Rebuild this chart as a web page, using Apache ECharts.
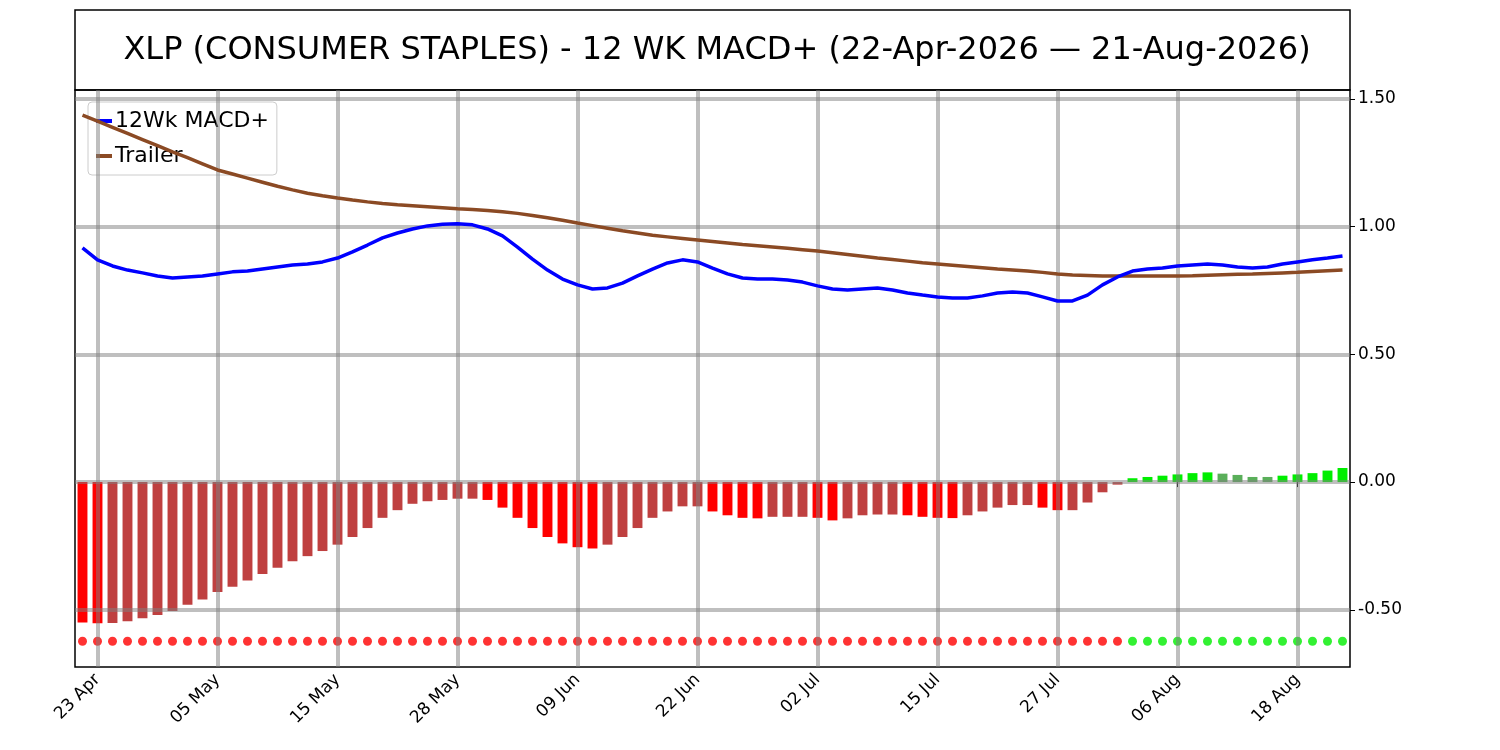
<!DOCTYPE html>
<html>
<head>
<meta charset="utf-8">
<script src="https://cdn.jsdelivr.net/npm/echarts@6/dist/echarts.min.js"></script>
<style>
  html, body { margin: 0; padding: 0; background: #fff; }
  #chart { width: 1500px; height: 750px; }
</style>
</head>
<body>
<div id="chart"></div>
<script>
// trading days, 22 Apr - 21 Aug 2026
var dates = [
  '22 Apr','23 Apr','24 Apr','27 Apr','28 Apr','29 Apr','30 Apr',
  '01 May','04 May','05 May','06 May','07 May','08 May','11 May','12 May','13 May','14 May','15 May',
  '18 May','19 May','20 May','21 May','22 May','26 May','27 May','28 May','29 May',
  '01 Jun','02 Jun','03 Jun','04 Jun','05 Jun','08 Jun','09 Jun','10 Jun','11 Jun','12 Jun',
  '15 Jun','16 Jun','17 Jun','18 Jun','22 Jun','23 Jun','24 Jun','25 Jun','26 Jun','29 Jun','30 Jun',
  '01 Jul','02 Jul','06 Jul','07 Jul','08 Jul','09 Jul','10 Jul','13 Jul','14 Jul','15 Jul',
  '16 Jul','17 Jul','20 Jul','21 Jul','22 Jul','23 Jul','24 Jul','27 Jul','28 Jul','29 Jul','30 Jul','31 Jul',
  '03 Aug','04 Aug','05 Aug','06 Aug','07 Aug','10 Aug','11 Aug','12 Aug','13 Aug','14 Aug',
  '17 Aug','18 Aug','19 Aug','20 Aug','21 Aug'
];

var macd = [
  0.917,0.870,0.846,0.830,0.819,0.807,0.799,0.803,0.807,0.815,
  0.823,0.826,0.834,0.842,0.850,0.854,0.862,0.877,0.901,0.928,
  0.956,0.975,0.991,1.003,1.009,1.011,1.007,0.991,0.964,0.920,
  0.873,0.830,0.795,0.772,0.756,0.760,0.779,0.807,0.834,0.858,
  0.870,0.862,0.838,0.815,0.799,0.795,0.795,0.791,0.783,0.768,
  0.756,0.752,0.756,0.760,0.752,0.740,0.732,0.725,0.721,0.721,
  0.729,0.740,0.744,0.740,0.725,0.709,0.709,0.732,0.772,0.803,
  0.826,0.834,0.838,0.846,0.850,0.854,0.850,0.842,0.838,0.842,
  0.854,0.862,0.870,0.877,0.885
];

var trailer = [
  1.437,1.413,1.389,1.365,1.341,1.317,1.293,1.270,1.246,1.222,
  1.206,1.190,1.174,1.158,1.144,1.131,1.121,1.112,
  1.104,1.097,1.091,1.086,1.082,1.078,1.074,1.070,
  1.067,1.063,1.058,1.052,1.044,1.035,1.025,1.014,
  1.004,0.994,0.984,0.975,0.966,0.960,0.954,0.948,
  0.942,0.936,0.930,0.925,0.920,0.915,0.910,0.905,
  0.898,0.891,0.884,0.877,0.871,0.865,0.859,0.854,
  0.849,0.844,0.839,0.834,0.830,0.826,0.821,0.815,
  0.811,0.809,0.807,0.807,0.807,0.807,0.807,0.807,
  0.808,0.810,0.812,0.814,0.815,0.817,0.819,0.821,
  0.824,0.827,0.830
];

var hist = [
  -0.550,-0.553,-0.552,-0.545,-0.533,-0.520,-0.505,-0.480,-0.460,-0.430,
  -0.410,-0.385,-0.360,-0.335,-0.310,-0.290,-0.270,-0.245,-0.215,-0.180,
  -0.140,-0.110,-0.085,-0.075,-0.070,-0.065,-0.065,-0.070,-0.100,-0.140,
  -0.180,-0.215,-0.240,-0.255,-0.260,-0.245,-0.215,-0.180,-0.140,-0.115,
  -0.095,-0.095,-0.115,-0.130,-0.140,-0.142,-0.136,-0.136,-0.136,-0.140,
  -0.150,-0.142,-0.130,-0.127,-0.127,-0.130,-0.136,-0.140,-0.141,-0.130,
  -0.115,-0.100,-0.090,-0.090,-0.100,-0.110,-0.110,-0.080,-0.040,-0.010,
  0.015,0.020,0.025,0.030,0.035,0.038,0.033,0.028,0.020,0.020,
  0.025,0.030,0.035,0.045,0.055
];

var dotLevel = -0.623;
var gridLevels = [1.5, 1.0, 0.5, 0, -0.5];

var font = 'DejaVu Sans';
var gridGray = 'rgba(128,128,128,0.5)';

var histData = hist.map(function(v, i) {
  var prev = i > 0 ? hist[i - 1] : 0;
  var c;
  if (v < 0) c = (i === 0 || v < prev) ? '#ff0000' : '#bf4040';
  else c = (v > prev) ? '#00ee00' : '#5aaf5a';
  return { value: v, itemStyle: { color: c } };
});
var dotData = hist.map(function(v) {
  return { value: dotLevel, itemStyle: { color: v < 0 ? '#ff0000' : '#00ee00' } };
});

var showIdx = function(i) { return (i - 1) % 8 === 0; };
var vLines = dates.filter(function(d, i) { return showIdx(i); })
  .map(function(d) { return { xAxis: d }; });
var hLines = gridLevels.map(function(v) { return { yAxis: v }; });

var chart = echarts.init(document.getElementById('chart'), null, { renderer: 'canvas' });
chart.setOption({
  animation: false,
  title: {
    text: 'XLP (CONSUMER STAPLES) - 12 WK MACD+ (22-Apr-2026 \u2014 21-Aug-2026)',
    left: 712, top: 30, textAlign: 'center',
    textStyle: { fontFamily: font, fontSize: 32, fontWeight: 'normal', color: '#000' }
  },
  graphic: [{
    type: 'rect', shape: { x: 75, y: 10, width: 1275, height: 80 },
    style: { fill: 'none', stroke: '#000', lineWidth: 1.5 }, z: -1
  }],
  legend: {
    left: 88, top: 102, orient: 'vertical',
    data: [{ name: '12Wk MACD+', icon: 'rect' }, { name: 'Trailer', icon: 'rect' }],
    backgroundColor: 'rgba(255,255,255,0.8)', borderColor: '#ccc', borderWidth: 1, borderRadius: 4,
    padding: [8, 8, 8, 8], itemGap: 13, itemWidth: 16, itemHeight: 4,
    textStyle: { fontFamily: font, fontSize: 22, color: '#000', padding: [0, 0, 0, -2] }
  },
  grid: { left: 75, right: 150, top: 90, bottom: 83, show: true, borderColor: '#000', borderWidth: 1.5 },
  xAxis: {
    type: 'category', data: dates, boundaryGap: true,
    axisLine: { show: false },
    axisTick: { show: true, interval: showIdx, alignWithLabel: true, length: 5, lineStyle: { color: '#000' } },
    axisLabel: { interval: showIdx, rotate: 45, fontFamily: font, fontSize: 17, color: '#000', margin: 10 },
    splitLine: { show: false }
  },
  yAxis: {
    type: 'value', position: 'right', min: -0.724, max: 1.535,
    axisLine: { show: false },
    splitLine: { show: false },
    axisTick: { show: true, customValues: gridLevels, length: 5, lineStyle: { color: '#000' } },
    axisLabel: {
      customValues: gridLevels, fontFamily: font, fontSize: 17, color: '#000', margin: 8,
      formatter: function(v) { return v.toFixed(2); }
    }
  },
  series: [
    {
      name: 'hist', type: 'bar', data: histData, barWidth: '66%', z: 3,
      markLine: {
        silent: true, symbol: 'none', label: { show: false },
        lineStyle: { color: gridGray, width: 4, type: 'solid' },
        data: hLines.concat(vLines)
      }
    },
    {
      name: 'dots', type: 'scatter', data: dotData, symbolSize: 9, z: 4
    },
    {
      name: 'Trailer', type: 'line', data: trailer, showSymbol: false, symbol: 'none',
      lineStyle: { color: '#8b4a24', width: 3.5 }, itemStyle: { color: '#8b4a24' }, z: 5
    },
    {
      name: '12Wk MACD+', type: 'line', data: macd, showSymbol: false, symbol: 'none',
      lineStyle: { color: '#0000ff', width: 3.5 }, itemStyle: { color: '#0000ff' }, z: 6
    }
  ]
});
window.addEventListener('resize', function() { chart.resize(); });
</script>
</body>
</html>
